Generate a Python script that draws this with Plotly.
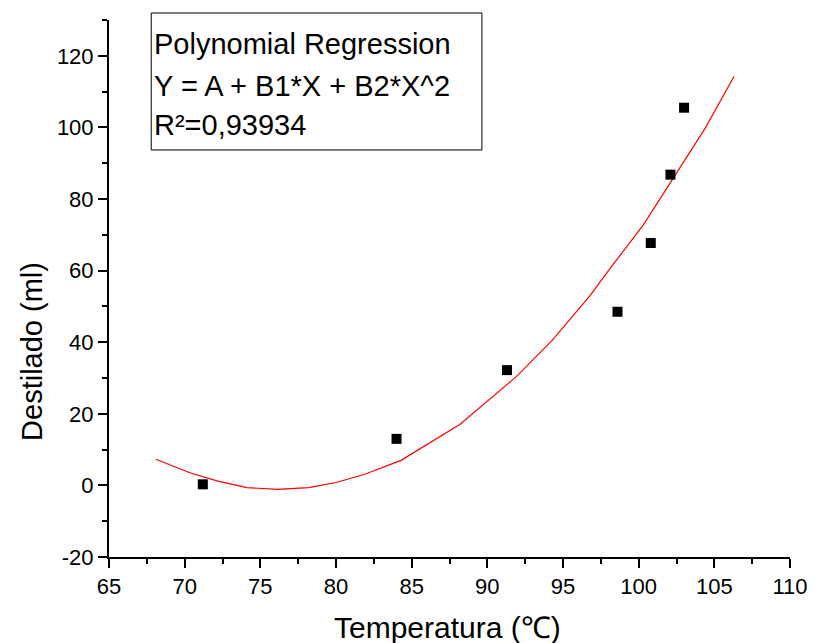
import plotly.graph_objects as go

# Measured data points
temp = [71.2, 84.0, 91.3, 98.6, 100.8, 102.1, 103.0]
destilado = [0.3, 13.0, 32.2, 48.5, 67.7, 86.8, 105.5]

# Fitted polynomial curve
fit_x = [68.1, 70.3, 72.2, 74.1, 76.1, 78.2, 80.0, 81.9, 84.3, 86.5, 88.2, 91.9, 94.3, 96.8, 98.2, 100.3, 102.4, 104.4, 106.3]
fit_y = [7.3, 3.6, 1.2, -0.6, -1.1, -0.6, 0.8, 3.1, 7.0, 12.8, 17.1, 30.3, 40.6, 53.1, 61.1, 72.7, 86.6, 99.8, 114.2]

x_ticks = [65, 70, 75, 80, 85, 90, 95, 100, 105, 110]
y_ticks = [-20, 0, 20, 40, 60, 80, 100, 120]

box_lines = ["Polynomial Regression", "Y = A + B1*X + B2*X^2", "R²=0,93934"]

FONT = "Liberation Sans, Arial, sans-serif"

fig = go.Figure()
fig.add_trace(go.Scatter(x=fit_x, y=fit_y, mode="lines", line=dict(color="#ff0000", width=1.2),
                         showlegend=False, hoverinfo="skip"))
fig.add_trace(go.Scatter(x=temp, y=destilado, mode="markers",
                         marker=dict(symbol="square", size=10, color="black"), showlegend=False))

axis_common = dict(showgrid=False, zeroline=False, showline=True, linecolor="black", linewidth=2,
                   ticks="outside", ticklen=9, tickwidth=2, tickcolor="black",
                   tickfont=dict(family=FONT, size=22, color="black"),
                   ticklabeloverflow="allow",
                   minor=dict(ticks="outside", ticklen=5, tickwidth=2, tickcolor="black"))

fig.update_xaxes(range=[65, 110], tickvals=x_ticks, ticktext=[str(v) for v in x_ticks],
                 minor_dtick=2.5, minor_tick0=65, **axis_common)
fig.update_yaxes(range=[-20, 130], tickvals=y_ticks, ticktext=[str(v) for v in y_ticks],
                 minor_dtick=10, minor_tick0=-20, **axis_common)

fig.add_shape(type="rect", xref="paper", yref="paper", x0=0.062, x1=0.5476, y0=0.758, y1=1.013,
              line=dict(color="black", width=1), fillcolor="rgba(0,0,0,0)")
for txt, yy in zip(box_lines, [0.955, 0.877, 0.804]):
    fig.add_annotation(text=txt, xref="paper", yref="paper", x=0.0625, y=yy, xanchor="left",
                       yanchor="middle", showarrow=False,
                       font=dict(family=FONT, size=29, color="black"))

fig.add_annotation(text="Temperatura (℃)", xref="paper", yref="paper", x=0.497, y=-0.132,
                   xanchor="center", yanchor="middle", showarrow=False,
                   font=dict(family=FONT, size=30, color="black"))
fig.add_annotation(text="Destilado (ml)", xref="paper", yref="paper", x=-0.113, y=0.382,
                   xanchor="center", yanchor="middle", textangle=-90, showarrow=False,
                   font=dict(family=FONT, size=29, color="black"))

# page body adds an 8px offset; size the figure so the plot lands where the reference has it
fig.update_layout(width=812, height=635, margin=dict(l=101, r=17, t=12, b=86),
                  paper_bgcolor="white", plot_bgcolor="white")

fig.write_html("out.html")
